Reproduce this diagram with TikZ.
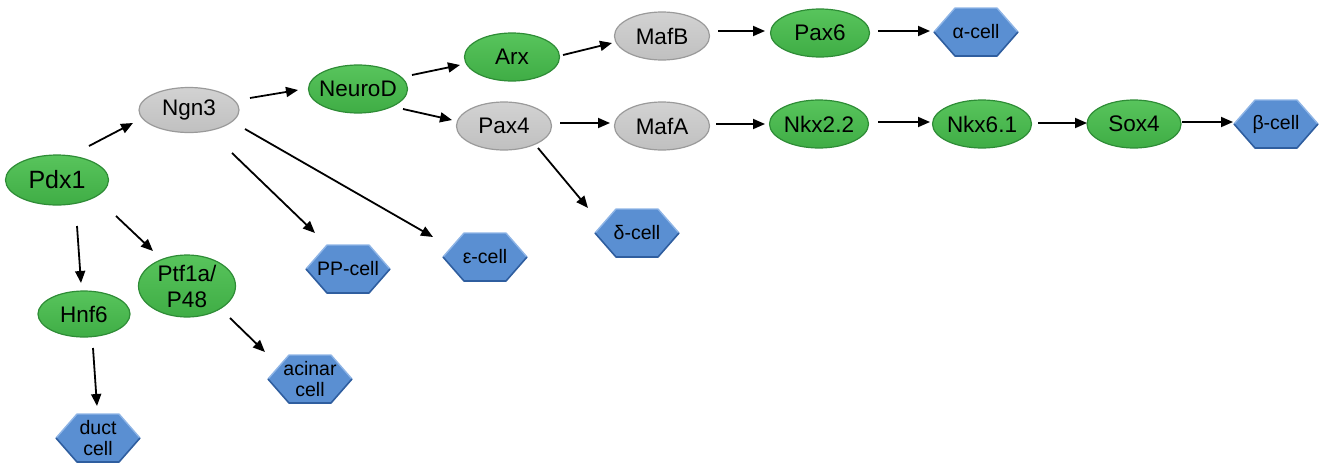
\documentclass[tikz,border=0pt]{standalone}
\usepackage{fontspec}
\setmainfont{Liberation Sans}
\usetikzlibrary{arrows.meta,shapes.geometric}
\pgfdeclarelayer{background}
\pgfsetlayers{background,main}
\definecolor{gtop}{HTML}{58C45C}
\definecolor{gbot}{HTML}{3FAD45}
\definecolor{gedge}{HTML}{2E8C36}
\definecolor{grtop}{HTML}{D2D2D2}
\definecolor{grbot}{HTML}{C0C0C0}
\definecolor{gredge}{HTML}{9A9A9A}
\definecolor{bfill}{HTML}{5A8FD2}
\definecolor{bdark}{HTML}{2F5E9F}
\definecolor{blight}{HTML}{8FB5E6}
\newcommand\drawhex[1]{%
  \begin{pgfonlayer}{background}
  \fill[bfill] ([shift={(-42,0)}]#1.center) -- ([shift={(-21,-24)}]#1.center) -- ([shift={(21,-24)}]#1.center) -- ([shift={(42,0)}]#1.center) -- ([shift={(21,24)}]#1.center) -- ([shift={(-21,24)}]#1.center) -- cycle;
  \draw[blight, line width=1.4pt, line join=round] ([shift={(-42,0)}]#1.center) -- ([shift={(-21,-24)}]#1.center) -- ([shift={(21,-24)}]#1.center) -- ([shift={(42,0)}]#1.center);
  \draw[bdark, line width=1.6pt, line join=round] ([shift={(42,0)}]#1.center) -- ([shift={(21,24)}]#1.center) -- ([shift={(-21,24)}]#1.center) -- ([shift={(-42,0)}]#1.center);
  \end{pgfonlayer}}
\begin{document}
\begin{tikzpicture}[x=1pt,y=-1pt,
  gene/.style={ellipse, inner sep=0pt, minimum width=99pt, minimum height=48pt,
    top color=gtop, bottom color=gbot, draw=gedge, line width=1.2pt,
    label={[font=\fontsize{22.5}{26}\selectfont, align=center]center:#1}},
  grey/.style={gene={#1}, top color=grtop, bottom color=grbot, draw=gredge},
  cell/.style={inner sep=0pt, align=center, font=\fontsize{19.5}{21.5}\selectfont},
  arr/.style={-{Triangle[length=12pt,width=10pt]}, line width=1.8pt, black}]
\useasboundingbox (0,0) rectangle (1329,466);
% genes
\node[ellipse, inner sep=0pt, minimum width=103pt, minimum height=50pt,
    top color=gtop, bottom color=gbot, draw=gedge, line width=1.2pt,
    label={[font=\fontsize{25}{28}\selectfont]center:Pdx1}] (pdx) at (57,180) {};
\node[grey={Ngn3}, minimum width=100pt, minimum height=45pt] (ngn) at (189,110) {};
\node[gene={NeuroD}] (neurod) at (358,89) {};
\node[gene={Arx}, minimum width=95pt] (arx) at (512,57) {};
\node[grey={MafB}, minimum width=95pt] (mafb) at (662,36) {};
\node[gene={Pax6}] (pax6) at (820,33) {};
\node[grey={Pax4}, minimum width=95pt] (pax4) at (504,126) {};
\node[grey={MafA}, minimum width=95pt] (mafa) at (662,126) {};
\node[gene={Nkx2.2}] (nkx22) at (819,124) {};
\node[gene={Nkx6.1}] (nkx61) at (982,124) {};
\node[gene={Sox4}, minimum width=94pt] (sox4) at (1134,124) {};
\node[gene={Hnf6}, minimum width=92pt, minimum height=46pt] (hnf6) at (84,314) {};
\node[gene={Ptf1a/\\P48}, minimum width=97pt, minimum height=62pt] (ptf) at (187,286) {};
% cells
\node[cell] (alpha) at (976,32) {α-cell};
\node[cell] (beta) at (1276,124) {β-cell};
\node[cell] (delta) at (637,233) {δ-cell};
\node[cell] (pp) at (348,269) {PP-cell};
\node[cell] (eps) at (485,257) {ε-cell};
\node[cell] (acinar) at (310,379) {acinar\\cell};
\node[cell] (duct) at (98,438) {duct\\cell};
\drawhex{alpha}\drawhex{beta}\drawhex{delta}\drawhex{pp}\drawhex{eps}\drawhex{acinar}\drawhex{duct}
% arrows
\draw[arr] ([shift={(32,-34)}]pdx.center) -- ([shift={(-56,13)}]ngn.center);
\draw[arr] ([shift={(20,46)}]pdx.center) -- ([shift={(-3,-31)}]hnf6.center);
\draw[arr] ([shift={(59,36)}]pdx.center) -- ([shift={(-34,-35)}]ptf.center);
\draw[arr] ([shift={(9,34)}]hnf6.center) -- ([shift={(-1,-32)}]duct.center);
\draw[arr] ([shift={(43,32)}]ptf.center) -- ([shift={(-45,-27)}]acinar.center);
\draw[arr] ([shift={(61,-12)}]ngn.center) -- ([shift={(-60,1)}]neurod.center);
\draw[arr] ([shift={(43,43)}]ngn.center) -- ([shift={(-33,-36)}]pp.center);
\draw[arr] ([shift={(56,19)}]ngn.center) -- ([shift={(-52,-20)}]eps.center);
\draw[arr] ([shift={(54,-14)}]neurod.center) -- ([shift={(-52,8)}]arx.center);
\draw[arr] ([shift={(45,20)}]neurod.center) -- ([shift={(-52,-6)}]pax4.center);
\draw[arr] ([shift={(51,-2)}]arx.center) -- ([shift={(-50,7)}]mafb.center);
\draw[arr] ([shift={(56,-5)}]mafb.center) -- ([shift={(-55,-2)}]pax6.center);
\draw[arr] ([shift={(58,-2)}]pax6.center) -- ([shift={(-46,-1)}]alpha.center);
\draw[arr] ([shift={(56,-3)}]pax4.center) -- ([shift={(-52,-3)}]mafa.center);
\draw[arr] ([shift={(34,22)}]pax4.center) -- ([shift={(-49,-25)}]delta.center);
\draw[arr] ([shift={(54,-2)}]mafa.center) -- ([shift={(-54,0)}]nkx22.center);
\draw[arr] ([shift={(59,-2)}]nkx22.center) -- ([shift={(-52,-2)}]nkx61.center);
\draw[arr] ([shift={(56,-1)}]nkx61.center) -- ([shift={(-47,-1)}]sox4.center);
\draw[arr] ([shift={(48,-2)}]sox4.center) -- ([shift={(-43,-2)}]beta.center);
\end{tikzpicture}
\end{document}
